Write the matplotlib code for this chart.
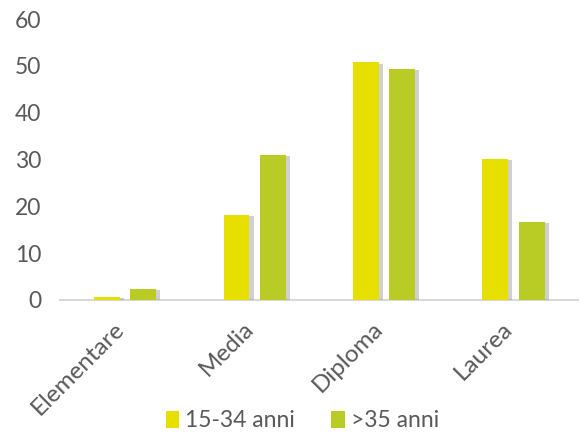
import matplotlib
matplotlib.use("Agg")
import matplotlib.pyplot as plt
import matplotlib.patheffects as pe
import matplotlib.transforms as mtransforms
import numpy as np

categories = ["Elementare", "Media", "Diploma", "Laurea"]
young = [0.7, 18.2, 50.8, 30.1]
old = [2.4, 31.0, 49.4, 16.7]
series_names = ["15-34 anni", ">35 anni"]
yticks = [0, 10, 20, 30, 40, 50, 60]

plt.rcParams['font.family'] = ['Lato', 'DejaVu Sans']
fig = plt.figure(figsize=(5.87, 4.34), dpi=100)
ax = fig.add_axes([0.103, 0.309, 0.882, 0.647])

x = np.arange(len(categories))
w = 0.2
off = 0.14
shadow = [pe.SimplePatchShadow(offset=(3, -1), shadow_rgbFace='#8a8a8a', alpha=0.4), pe.Normal()]
b1 = ax.bar(x - off, young, w, color='#E6DF00', label=series_names[0], zorder=3)
b2 = ax.bar(x + off, old, w, color='#B9CB25', label=series_names[1], zorder=3)
for b in list(b1) + list(b2):
    b.set_path_effects(shadow)

ax.set_xlim(-0.5, len(categories) - 0.5)
ax.set_ylim(0, 60)
ax.set_yticks(yticks)
ax.set_yticklabels([str(v) for v in yticks], fontsize=16.5, color='#595959')
ax.set_xticks(x)
ax.set_xticklabels(categories, rotation=45, ha='right', rotation_mode='anchor',
                   fontsize=17.5, color='#595959')
ax.tick_params(axis='y', length=0, pad=14)
ax.tick_params(axis='x', length=0, pad=6)
shift = mtransforms.ScaledTranslation(-12 / 100, -10 / 100, fig.dpi_scale_trans)
for lab in ax.get_xticklabels():
    lab.set_transform(lab.get_transform() + shift)
for s in ['top', 'right', 'left']:
    ax.spines[s].set_visible(False)
ax.spines['bottom'].set_color('#D9D9D9')
ax.spines['bottom'].set_linewidth(1.5)
ax.spines['bottom'].set_zorder(2)

leg = fig.legend(handles=[b1, b2], labels=series_names, loc='center',
                 bbox_to_anchor=(0.515, 0.03), ncol=2, frameon=False,
                 fontsize=16.5, handlelength=0.6, handleheight=0.8,
                 handletextpad=0.25, columnspacing=1.6)
for t in leg.get_texts():
    t.set_color('#595959')
for h in leg.legend_handles:
    h.set_path_effects([])

fig.savefig("out.png", dpi=100)
